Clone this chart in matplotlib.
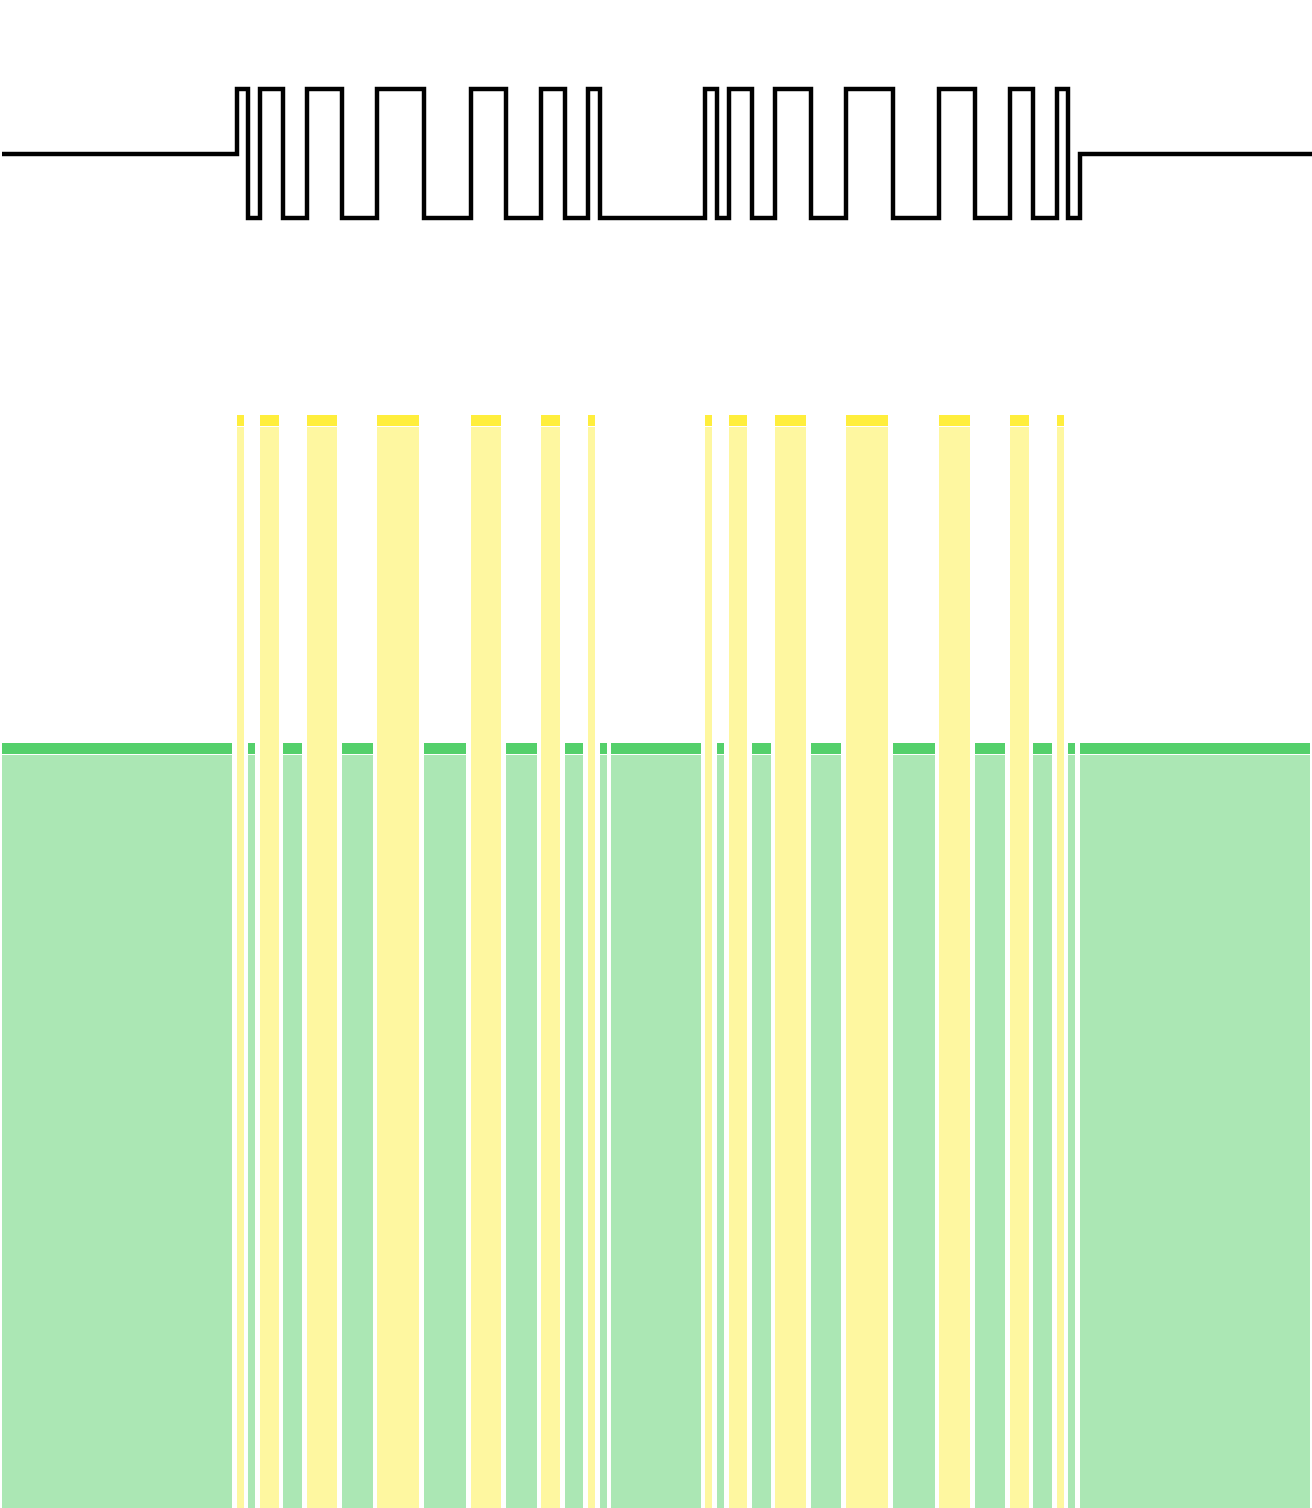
import numpy as np
import matplotlib
matplotlib.use("Agg")
import matplotlib.pyplot as plt

# time slots: kind of each slot and its length in units
kinds = (["G"]
         + ["Y", "G"] * 7
         + ["G"]
         + ["Y", "G"] * 7
         + ["G"])
durations = [20,
             1, 1, 2, 2, 3, 3, 4, 4, 3, 3, 2, 2, 1, 1,
             8,
             1, 1, 2, 2, 3, 3, 4, 4, 3, 3, 2, 2, 1, 1,
             20]
# signal level for the top trace (1 high, 0 idle, -1 low)
levels = ([0]
          + [1, -1] * 7
          + [-1]
          + [1, -1] * 7
          + [0])
# bar heights per kind
heights = {"Y": 1.0, "G": 0.70}

body_col = {"Y": "#FEF7A0", "G": "#ABE7B4"}
cap_col = {"Y": "#FFEE3C", "G": "#54D06B"}

W, H, DPI = 1312, 1508, 100
edges = np.concatenate([[0], np.cumsum(durations)])
total = edges[-1]

fig = plt.figure(figsize=(W / DPI, H / DPI), dpi=DPI)

# bars
ax = fig.add_axes([0, 0, 1, 1093 / H])
ax.set_xlim(0, total)
ax.set_ylim(0, 1)
ax.axis("off")

px = total / W          # data units per pixel on x
py = 1 / 1093           # data units per pixel on y
pad = 2.25 * px
cap_h = 11 * py
cap_gap = 1.3 * py

for k, x0, d in zip(kinds, edges[:-1], durations):
    h = heights[k]
    ax.bar(x0 + pad, h - cap_h - cap_gap, width=d - 2 * pad, align="edge",
           color=body_col[k], linewidth=0)
    ax.bar(x0 + pad, cap_h, bottom=h - cap_h, width=d - 2 * pad, align="edge",
           color=cap_col[k], linewidth=0)

# signal trace
ax2 = fig.add_axes([2.3 / W, (H - 218) / H, 1, 129 / H])
ax2.set_xlim(0, total)
ax2.set_ylim(-1, 1)
ax2.axis("off")
ax2.stairs(levels, edges, baseline=None, color="black", linewidth=3.2,
           clip_on=False)

fig.savefig("out.png", dpi=DPI, facecolor="white")
